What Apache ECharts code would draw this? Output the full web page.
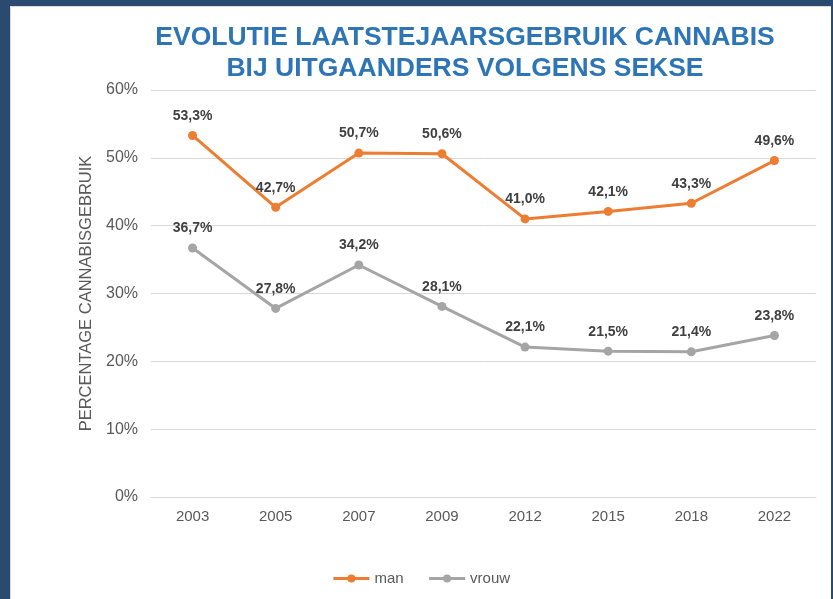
<!DOCTYPE html>
<html>
<head>
<meta charset="utf-8">
<script src="https://cdn.jsdelivr.net/npm/echarts@6/dist/echarts.min.js"></script>
<style>
	html, body { margin: 0; padding: 0; width: 833px; height: 599px; background: #2a4a6f; overflow: hidden; }
	#main { position: absolute; left: 10px; top: 6px; width: 821px; height: 593px; background: #fff; border-left: 1px solid #d9d9d9; border-top: 1px solid #d9d9d9; box-sizing: border-box; }
</style>
</head>
<body>
<div id="main"></div>
<script>
	let years = ['2003', '2005', '2007', '2009', '2012', '2015', '2018', '2022'];
	let man = [53.3, 42.7, 50.7, 50.6, 41.0, 42.1, 43.3, 49.6];
	let vrouw = [36.7, 27.8, 34.2, 28.1, 22.1, 21.5, 21.4, 23.8];

	let myChart = echarts.init(document.getElementById('main'));
	let fmt = function (p) { return p.value.toFixed(1).replace('.', ',') + '%'; };
	let option = {
		backgroundColor: '#fff',
		textStyle: { fontFamily: 'Liberation Sans, Arial, sans-serif' },
		title: {
			text: 'EVOLUTIE LAATSTEJAARSGEBRUIK CANNABIS\nBIJ UITGAANDERS VOLGENS SEKSE',
			left: 449,
			top: 10,
			textAlign: 'center',
			textStyle: { color: '#2e75b6', fontSize: 26.5, fontWeight: 'bold', lineHeight: 31 }
		},
		legend: {
			bottom: 8,
			left: 'center',
			itemWidth: 36,
			itemHeight: 10,
			itemGap: 24,
			lineStyle: { width: 3 },
			textStyle: { color: '#595959', fontSize: 15 },
			data: ['man', 'vrouw']
		},
		grid: { left: 140, right: 15, top: 83, bottom: 102 },
		xAxis: {
			type: 'category',
			data: years,
			axisLine: { lineStyle: { color: '#d9d9d9' } },
			axisTick: { show: false },
			axisLabel: { color: '#595959', fontSize: 15, margin: 12 }
		},
		yAxis: {
			type: 'value',
			min: 0,
			max: 60,
			interval: 10,
			name: 'PERCENTAGE CANNABISGEBRUIK',
			nameLocation: 'middle',
			nameGap: 50,
			nameTextStyle: { color: '#595959', fontSize: 16.5 },
			axisLabel: { color: '#595959', fontSize: 16, formatter: '{value}%', margin: 13 },
			splitLine: { lineStyle: { color: '#d9d9d9' } }
		},
		series: [
			{
				name: 'man',
				type: 'line',
				data: man,
				color: '#ed7d31',
				symbol: 'circle',
				symbolSize: 9,
				lineStyle: { width: 3 },
				label: { show: true, position: 'top', distance: 8, color: '#404040', fontSize: 14, fontWeight: 'bold', formatter: fmt }
			},
			{
				name: 'vrouw',
				type: 'line',
				data: vrouw,
				color: '#a5a5a5',
				symbol: 'circle',
				symbolSize: 9,
				lineStyle: { width: 3 },
				label: { show: true, position: 'top', distance: 8, color: '#404040', fontSize: 14, fontWeight: 'bold', formatter: fmt }
			}
		]
	};
	myChart.setOption(option);
</script>
</body>
</html>
